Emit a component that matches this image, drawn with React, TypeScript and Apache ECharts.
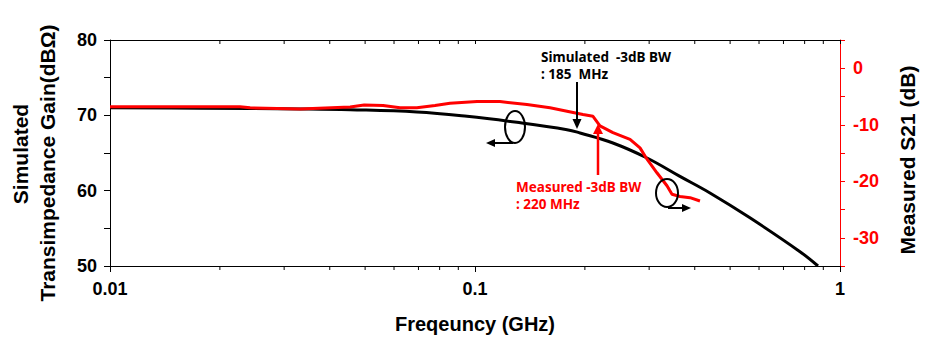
import React, { useEffect, useRef } from "react";
import * as echarts from "echarts";

// Simulated transimpedance gain (left axis, dBΩ)
const simFreq = [0.01, 0.0177, 0.0332, 0.0455, 0.0693, 0.0951, 0.1303, 0.1787, 0.194, 0.2387, 0.296, 0.3643, 0.4403, 0.5666, 0.777, 0.8704];
const simGain = [71.0, 70.95, 70.85, 70.75, 70.45, 69.87, 69.07, 68.1, 67.66, 66.33, 64.34, 61.9, 59.7, 56.4, 51.9, 50.0];

// Measured S21 (right axis, dB)
const measFreq = [0.01, 0.0227, 0.0242, 0.0332, 0.0455, 0.0497, 0.056, 0.0623, 0.0693, 0.0777, 0.0854, 0.1013, 0.117, 0.1388, 0.1605, 0.1787, 0.1976, 0.2105, 0.22, 0.2387, 0.2659, 0.2832, 0.296, 0.3151, 0.3357, 0.3465, 0.3643, 0.3882, 0.4134];
const measS21 = [-6.8, -6.8, -7.0, -7.2, -6.85, -6.5, -6.6, -7.0, -7.0, -6.6, -6.2, -5.9, -5.9, -6.4, -7.0, -7.6, -8.2, -8.5, -10.2, -11.4, -12.6, -14.1, -16.1, -18.5, -20.8, -22.3, -22.7, -22.9, -23.5];

const xTickLabels = ["0.01", "0.1", "1"];
const xMinorTicks = [0.02, 0.03, 0.04, 0.05, 0.06, 0.07, 0.08, 0.09, 0.2, 0.3, 0.4, 0.5, 0.6, 0.7, 0.8, 0.9];

const RED = "#ff0000";
const AX_FONT = '"Liberation Sans", Arial, sans-serif';
const ANN_FONT = '"Noto Sans", "Liberation Sans", sans-serif';

function txt(text: string, x: number, y: number, color: string, font: string, rot = 0, align = "left", lineHeight?: number) {
  return {
    type: "text",
    x,
    y,
    rotation: rot,
    z: 100,
    style: {
      text,
      font,
      fill: color,
      align,
      verticalAlign: "middle",
      textAlign: align,
      textVerticalAlign: "middle",
      lineHeight,
    },
  };
}

export default function App() {
  const ref = useRef<HTMLDivElement>(null);
  useEffect(() => {
    document.body.style.margin = "0";
    const chart = echarts.init(ref.current!, null, { renderer: "svg" });
    const option: any = {
      animation: false,
      backgroundColor: "#fff",
      grid: { left: 110, right: 89, top: 40, bottom: 73 },
      xAxis: [
        {
          type: "log",
          logBase: 10,
          min: 0.01,
          max: 1,
          position: "bottom",
          axisLine: { show: true, onZero: false, lineStyle: { color: "#000", width: 1 } },
          axisTick: { show: true, inside: false, length: 6, lineStyle: { color: "#000" } },
          axisLabel: {
            margin: 14,
            fontSize: 18,
            fontWeight: "bold",
            fontFamily: AX_FONT,
            color: "#000",
            formatter: (v: number) => xTickLabels[Math.round(Math.log10(v)) + 2] ?? "",
          },
          splitLine: { show: false },
          minorTick: { show: false },
          name: "Freqeuncy (GHz)",
          nameLocation: "middle",
          nameGap: 48,
          nameTextStyle: { fontSize: 20, fontWeight: "bold", fontFamily: AX_FONT, color: "#000" },
        },
        {
          type: "log",
          logBase: 10,
          min: 0.01,
          max: 1,
          position: "top",
          axisLine: { show: true, onZero: false, lineStyle: { color: "#000", width: 1 } },
          axisTick: { show: true, inside: true, length: 4, lineStyle: { color: "#000" } },
          axisLabel: { show: false },
          splitLine: { show: false },
        },
      ],
      yAxis: [
        {
          type: "value",
          min: 50,
          max: 80,
          interval: 5,
          position: "left",
          axisLine: { show: true, onZero: false, lineStyle: { color: "#000", width: 1 } },
          axisTick: { show: true, inside: false, length: 6, lineStyle: { color: "#000" } },
          axisLabel: {
            margin: 13,
            fontSize: 18,
            fontWeight: "bold",
            fontFamily: AX_FONT,
            color: "#000",
            formatter: (v: number) => (v % 10 === 0 ? String(v) : ""),
          },
          splitLine: { show: false },
        },
        {
          type: "value",
          min: -35,
          max: 5,
          interval: 5,
          position: "right",
          axisLine: { show: true, onZero: false, lineStyle: { color: RED, width: 1 } },
          axisTick: { show: true, inside: false, length: 5, lineStyle: { color: RED } },
          axisLabel: {
            margin: 13,
            fontSize: 18,
            fontWeight: "bold",
            fontFamily: AX_FONT,
            color: RED,
            formatter: (v: number) => (v % 10 === 0 ? String(v) : ""),
          },
          splitLine: { show: false },
        },
      ],
      series: [
        {
          type: "line",
          name: "Simulated",
          xAxisIndex: 0,
          yAxisIndex: 0,
          data: simFreq.map((f, i) => [f, simGain[i]]),
          smooth: 0.4,
          showSymbol: false,
          lineStyle: { color: "#000", width: 3 },
          z: 2,
        },
        {
          type: "line",
          name: "Measured",
          xAxisIndex: 0,
          yAxisIndex: 1,
          data: measFreq.map((f, i) => [f, measS21[i]]),
          showSymbol: false,
          lineStyle: { color: RED, width: 3 },
          z: 3,
        },
        {
          type: "custom",
          xAxisIndex: 0,
          yAxisIndex: 0,
          silent: true,
          clip: false,
          data: xMinorTicks.map((v) => [v, 50]),
          renderItem: (_p: any, api: any) => {
            const b = api.coord([api.value(0), 50]);
            const t = api.coord([api.value(0), 80]);
            return {
              type: "group",
              children: [
                { type: "line", shape: { x1: b[0], y1: b[1], x2: b[0], y2: b[1] + 4 }, style: { stroke: "#000", lineWidth: 1 } },
                { type: "line", shape: { x1: t[0], y1: t[1], x2: t[0], y2: t[1] + 4 }, style: { stroke: "#000", lineWidth: 1 } },
              ],
            };
          },
        },
      ],
      graphic: [
        txt("Simulated", 20, 154, "#000", `bold 21px ${AX_FONT}`, Math.PI / 2, "center"),
        txt("Transimpedance Gain(dBΩ)", 47, 163, "#000", `bold 21px ${AX_FONT}`, Math.PI / 2, "center"),
        txt("Measured S21 (dB)", 907, 160, "#000", `bold 21px ${AX_FONT}`, Math.PI / 2, "center"),
        txt("Simulated  -3dB BW\n: 185  MHz", 541, 65, "#000", `bold 13.5px ${ANN_FONT}`, 0, "left", 17),
        txt("Measured -3dB BW\n: 220 MHz", 516, 195, RED, `bold 13.5px ${ANN_FONT}`, 0, "left", 17),
        // simulated BW arrow
        { type: "line", z: 100, shape: { x1: 577, y1: 82, x2: 577, y2: 121 }, style: { stroke: "#000", lineWidth: 2 } },
        { type: "polygon", z: 100, shape: { points: [[572.5, 119], [581.5, 119], [577, 129]] }, style: { fill: "#000" } },
        // measured BW arrow
        { type: "line", z: 100, shape: { x1: 598, y1: 175, x2: 598, y2: 132 }, style: { stroke: RED, lineWidth: 2.5 } },
        { type: "polygon", z: 100, shape: { points: [[593, 134], [603, 134], [598, 124]] }, style: { fill: RED } },
        // left axis marker
        { type: "ellipse", z: 100, shape: { cx: 515, cy: 127, rx: 10, ry: 16 }, style: { stroke: "#000", lineWidth: 2, fill: "none" } },
        { type: "line", z: 100, shape: { x1: 513, y1: 143, x2: 493, y2: 143 }, style: { stroke: "#000", lineWidth: 2 } },
        { type: "polygon", z: 100, shape: { points: [[486, 143], [495, 139], [495, 147]] }, style: { fill: "#000" } },
        // right axis marker
        { type: "ellipse", z: 100, shape: { cx: 667, cy: 193, rx: 11, ry: 14 }, style: { stroke: "#000", lineWidth: 2, fill: "none" } },
        { type: "line", z: 100, shape: { x1: 668, y1: 208, x2: 684, y2: 208 }, style: { stroke: "#000", lineWidth: 2 } },
        { type: "polygon", z: 100, shape: { points: [[691, 208], [682, 204], [682, 212]] }, style: { fill: "#000" } },
      ],
    };
    chart.setOption(option);
    return () => chart.dispose();
  }, []);
  return <div ref={ref} style={{ width: 929, height: 339 }} />;
}
